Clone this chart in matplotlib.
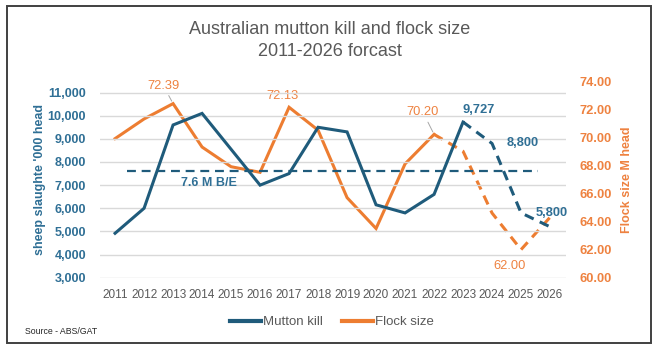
import matplotlib
matplotlib.use("Agg")
import matplotlib.pyplot as plt
from matplotlib.patches import Rectangle
from matplotlib.lines import Line2D

plt.rcParams['font.family'] = ['Liberation Sans', 'DejaVu Sans']

years = list(range(2011, 2027))
mutton_kill = [4920, 6000, 9600, 10100, 8550, 7000, 7500, 9500,
               9300, 6150, 5800, 6600, 9727, 8800, 5800, 5200]
flock_size = [69.9, 71.3, 72.39, 69.3, 67.9, 67.5, 72.13, 70.5,
              65.7, 63.5, 68.1, 70.20, 69.0, 64.6, 62.00, 64.3]
breakeven = 7600
kill_forecast_start = 2023
flock_forecast_start = 2022

BLUE = '#1F5B7B'
BLUE_TXT = '#2F6F95'
ORANGE = '#ED7D31'
ORANGE_TXT = '#EE8240'
GREY_TXT = '#595959'

fig = plt.figure(figsize=(6.56, 3.5), dpi=100)
fig.patches.append(Rectangle((7 / 656, 7 / 350), 644 / 656, 337 / 350,
                             transform=fig.transFigure, fill=False,
                             edgecolor='#404040', linewidth=1.4))

ax = fig.add_axes([100 / 656, 72.3 / 350, 466 / 656, 196.7 / 350])
ax2 = ax.twinx()

ax.set_xlim(2010.48, 2026.55)
ax.set_ylim(3000, 11500)
ax2.set_ylim(60, 74)

ax.set_yticks(range(3000, 11001, 1000))
ax.set_yticklabels([f"{v:,}" for v in range(3000, 11001, 1000)])
ax2.set_yticks(range(60, 75, 2))
ax2.set_yticklabels([f"{v:.2f}" for v in range(60, 75, 2)])
ax.set_xticks(years)
ax.set_xticklabels([str(y) for y in years])

ax.grid(axis='y', color='#D9D9D9', linewidth=1.0)
ax.set_axisbelow(True)
for a in (ax, ax2):
    for s in a.spines.values():
        s.set_visible(False)
ax.tick_params(axis='y', length=0, pad=10, labelcolor=BLUE_TXT, labelsize=9)
ax.tick_params(axis='x', length=0, pad=8, labelcolor=GREY_TXT, labelsize=8.5)
ax2.tick_params(axis='y', length=0, pad=10, labelcolor=ORANGE_TXT, labelsize=9.3)
for lab in ax.get_yticklabels() + ax2.get_yticklabels():
    lab.set_fontweight('bold')

ax.set_ylabel("sheep slaughte '000 head", color=BLUE_TXT, fontsize=9,
              fontweight='bold', labelpad=1)
ax2.set_ylabel("Flock size M head", color=ORANGE_TXT, fontsize=9,
               fontweight='bold', labelpad=6)

# Flock size on the secondary axis: actuals solid, forecast dashed
fi = years.index(flock_forecast_start)
ax2.plot(years[:fi + 1], flock_size[:fi + 1], color=ORANGE, lw=2.2,
         solid_joinstyle='miter', zorder=3)
ax2.plot(years[fi:], flock_size[fi:], color=ORANGE, lw=2.2,
         linestyle=(0, (3.2, 2.2)), zorder=3)

# Mutton kill on the primary axis
ax.set_zorder(ax2.get_zorder() + 1)
ax.patch.set_visible(False)
ki = years.index(kill_forecast_start)
ax.plot(years[:ki + 1], mutton_kill[:ki + 1], color=BLUE, lw=2.2,
        solid_joinstyle='miter', zorder=3)
ax.plot(years[ki:], mutton_kill[ki:], color=BLUE, lw=2.2,
        linestyle=(0, (3.2, 2.2)), zorder=3)

# Break-even level
ax.hlines(breakeven, 2011.4, 2025.6, color=BLUE, lw=1.6,
          linestyles=(0, (4, 2.6)), zorder=2)
ax.text(2014.25, breakeven - 500, f"{breakeven / 1000:.1f} M B/E", color=BLUE_TXT,
        fontsize=9, fontweight='bold', ha='center', va='center')

# Value labels
def flock_label(year, dx, dy, leader=False):
    v = flock_size[years.index(year)]
    kw = dict(arrowprops=dict(arrowstyle='-', color='#A6A6A6', lw=0.7,
                              shrinkA=1, shrinkB=2)) if leader else {}
    ax2.annotate(f"{v:.2f}", (year, v), xytext=(dx, dy), textcoords='offset points',
                 color=ORANGE_TXT, fontsize=9.3, ha='center', va='center', **kw)

def kill_label(year, dx, dy):
    v = mutton_kill[years.index(year)]
    ax.annotate(f"{v:,}", (year, v), xytext=(dx, dy), textcoords='offset points',
                color=BLUE_TXT, fontsize=9.3, fontweight='bold',
                ha='center', va='center')

flock_label(2013, -7, 13, leader=True)
flock_label(2017, -5, 8)
flock_label(2022, -8, 16, leader=True)
flock_label(2025, -8, -12)
kill_label(2023, 11, 9)
kill_label(2024, 22, 0)
kill_label(2025, 22, 0)

fig.text(330 / 656, 1 - 30 / 350, "Australian mutton kill and flock size",
         ha='center', va='center', fontsize=13, color=GREY_TXT)
fig.text(330 / 656, 1 - 51 / 350, "2011-2026 forcast",
         ha='center', va='center', fontsize=13, color=GREY_TXT)

handles = [Line2D([], [], color=BLUE, lw=3), Line2D([], [], color=ORANGE, lw=3)]
fig.legend(handles, ["Mutton kill", "Flock size"], loc='center',
           bbox_to_anchor=(332 / 656, 1 - 322 / 350), ncol=2, frameon=False,
           fontsize=9.5, labelcolor=GREY_TXT, handlelength=2.4,
           handletextpad=0.15, columnspacing=1.4)

fig.text(25 / 656, 1 - 331 / 350, "Source - ABS/GAT", fontsize=6.3, color='#262626',
         ha='left', va='center')

fig.savefig("out.png", dpi=100)
